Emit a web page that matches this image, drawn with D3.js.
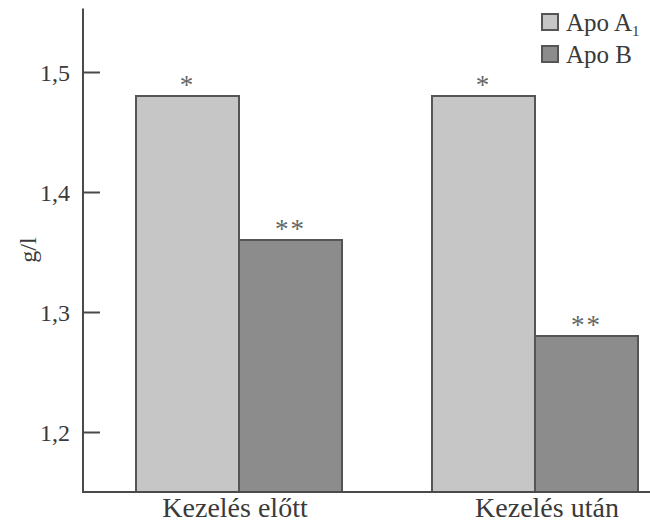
<!DOCTYPE html>
<html>
<head>
<meta charset="utf-8">
<script src="https://cdn.jsdelivr.net/npm/d3@7"></script>
<style>
  html, body { margin: 0; padding: 0; background: #fff; }
  svg { display: block; }
  text { font-family: "Liberation Serif", "Times New Roman", serif; fill: #3a3a3a; }
</style>
</head>
<body>
<svg id="chart" width="650" height="525"></svg>
<script>
const categories = ["Kezelés előtt", "Kezelés után"];
const seriesNames = ["Apo A1", "Apo B"];
const apoA1 = [1.48, 1.48];
const apoB = [1.36, 1.28];
const marks = [["*", "**"], ["*", "**"]];
const yTicks = [1.2, 1.3, 1.4, 1.5];
const yTickLabels = ["1,2", "1,3", "1,4", "1,5"];

const svg = d3.select("#chart");
const axisColor = "#4a4a4a";
const colors = ["#c6c6c6", "#8c8c8c"];
const labelShift = [-4, 12];

const y = d3.scaleLinear().domain([1.15, 1.55]).range([492, 12]);
const x0 = d3.scaleBand().domain(categories).range([136, 638]).paddingInner(0.304).paddingOuter(0);
const x1 = d3.scaleBand().domain(seriesNames).range([0, x0.bandwidth()]).padding(0);

const data = categories.map((c, i) => ({
  cat: c,
  vals: [
    { s: seriesNames[0], v: apoA1[i], m: marks[i][0] },
    { s: seriesNames[1], v: apoB[i], m: marks[i][1] }
  ]
}));

const g = svg.selectAll("g.grp").data(data).enter().append("g")
  .attr("class", "grp")
  .attr("transform", d => `translate(${x0(d.cat)},0)`);

g.selectAll("rect").data(d => d.vals).enter().append("rect")
  .attr("x", d => x1(d.s))
  .attr("y", d => y(d.v))
  .attr("width", x1.bandwidth())
  .attr("height", d => y(1.15) - y(d.v))
  .attr("fill", (d, i) => colors[i])
  .attr("stroke", "#555")
  .attr("stroke-width", 2);

g.selectAll("text.mark").data(d => d.vals).enter().append("text")
  .attr("class", "mark")
  .attr("x", d => x1(d.s) + x1.bandwidth() / 2)
  .attr("y", d => y(d.v) - 2)
  .attr("text-anchor", "middle")
  .attr("font-size", 27)
  .attr("letter-spacing", 2)
  .style("fill", "#666")
  .text(d => d.m);

// Y axis
const yAxis = d3.axisLeft(y)
  .tickValues(yTicks)
  .tickFormat((d, i) => yTickLabels[i])
  .tickSizeInner(-17)
  .tickSizeOuter(0)
  .tickPadding(13);

const ya = svg.append("g").attr("transform", "translate(83,0)").call(yAxis);
ya.select(".domain").remove();
ya.selectAll(".tick line").attr("stroke", axisColor).attr("stroke-width", 2);
ya.selectAll(".tick text").attr("font-size", 24).style("font-family", "Liberation Serif").style("fill", "#3a3a3a").attr("dy", "0.35em");

svg.append("line")
  .attr("x1", 83).attr("x2", 83)
  .attr("y1", y(1.553)).attr("y2", y(1.15) + 1)
  .attr("stroke", axisColor).attr("stroke-width", 2);

// X axis line
svg.append("line")
  .attr("x1", 82).attr("x2", 650)
  .attr("y1", y(1.15)).attr("y2", y(1.15))
  .attr("stroke", axisColor).attr("stroke-width", 2);

// Category labels
svg.selectAll("text.cat").data(categories).enter().append("text")
  .attr("class", "cat")
  .attr("x", (d, i) => x0(d) + x0.bandwidth() / 2 + labelShift[i])
  .attr("y", 517)
  .attr("text-anchor", "middle")
  .attr("font-size", 28)
  .text(d => d);

// Y label
svg.append("text")
  .attr("transform", "translate(36,250) rotate(-90)")
  .attr("text-anchor", "middle")
  .attr("font-size", 24)
  .text("g/l");

// Legend
const legend = svg.append("g");
const legY = [14, 46];
seriesNames.forEach((s, i) => {
  legend.append("rect")
    .attr("x", 542).attr("y", legY[i])
    .attr("width", 16).attr("height", 16)
    .attr("fill", colors[i])
    .attr("stroke", "#555").attr("stroke-width", 2);
  const t = legend.append("text")
    .attr("x", 566).attr("y", legY[i] + 17)
    .attr("font-size", 25);
  if (i === 0) {
    t.append("tspan").text("Apo A");
    t.append("tspan").attr("font-size", 15).attr("dy", 5).text("1");
  } else {
    t.text(s);
  }
});
</script>
</body>
</html>
